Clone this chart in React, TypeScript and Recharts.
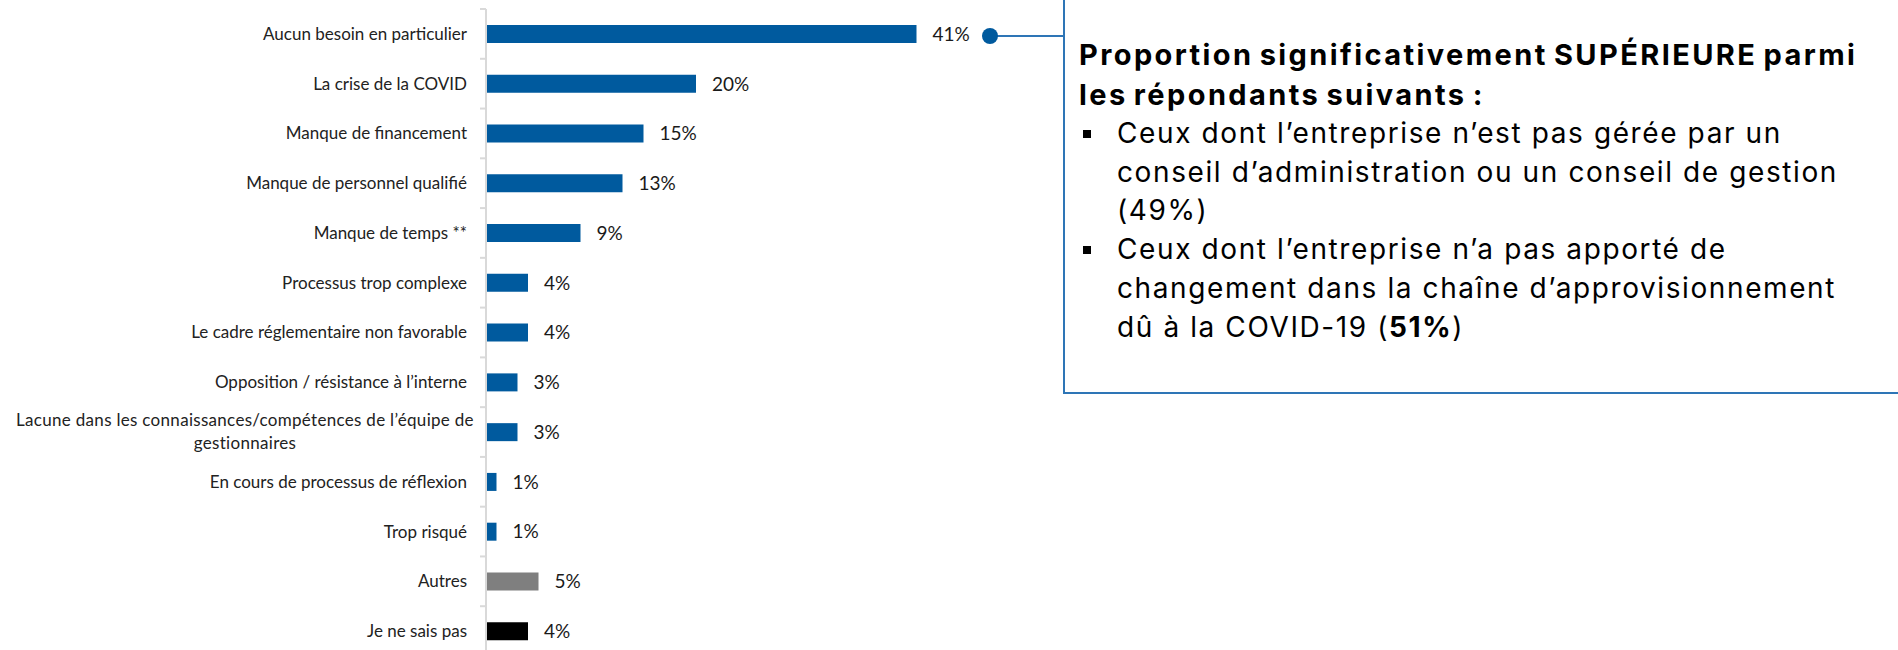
import React from "react";
import { BarChart, Bar, XAxis, YAxis, Cell, LabelList } from "recharts";

const categories: string[] = [
  "Aucun besoin en particulier",
  "La crise de la COVID",
  "Manque de financement",
  "Manque de personnel qualifié",
  "Manque de temps **",
  "Processus trop complexe",
  "Le cadre réglementaire non favorable",
  "Opposition / résistance à l’interne",
  "Lacune dans les connaissances/compétences de l’équipe de gestionnaires",
  "En cours de processus de réflexion",
  "Trop risqué",
  "Autres",
  "Je ne sais pas",
];

const values: number[] = [41, 20, 15, 13, 9, 4, 4, 3, 3, 1, 1, 5, 4];

const calloutTitle: string[] = [
  "Proportion significativement SUPÉRIEURE parmi",
  "les répondants suivants :",
];

const bullet1Lines: string[] = [
  "Ceux dont l’entreprise n’est pas gérée par un",
  "conseil d’administration ou un conseil de gestion",
  "(49%)",
];

const bullet2Lines: string[] = [
  "Ceux dont l’entreprise n’a pas apporté de",
  "changement dans la chaîne d’approvisionnement",
];
const bullet2LastPrefix = "dû à la COVID-19 (";
const bullet2LastBold = "51%";
const bullet2LastSuffix = ")";

const data = categories.map((name, i) => ({ name, value: values[i] }));

const BLUE = "#005A9E";
const colorFor = (name: string) =>
  name === "Autres" ? "#7F7F7F" : name === "Je ne sais pas" ? "#000000" : BLUE;

const CHART_FONT = "Lato, 'Open Sans', sans-serif";
const BOX_LEFT = 1063;
const BORDER = "#2E75B6";

function wrapWords(text: string, maxChars: number): string[] {
  const words = text.split(" ");
  const lines: string[] = [];
  let cur = "";
  for (const w of words) {
    const next = cur ? cur + " " + w : w;
    if (next.length > maxChars && cur) {
      lines.push(cur);
      cur = w;
    } else cur = next;
  }
  if (cur) lines.push(cur);
  return lines;
}

const CategoryTick = (props: any) => {
  const { x, y, payload } = props;
  const half = payload && payload.offset ? payload.offset : 24.9;
  const axisX = x + 19;
  const lines = wrapWords(String(payload.value), 58);
  const tickMark = (
    <line x1={axisX - 6} x2={axisX} y1={y - half} y2={y - half} stroke="#D9D9D9" strokeWidth={2} />
  );
  if (lines.length === 1) {
    return (
      <g>
        {tickMark}
        <text x={x} y={y} dy="0.35em" textAnchor="end" fontFamily={CHART_FONT} fontSize={17} fill="#222">
          {lines[0]}
        </text>
      </g>
    );
  }
  const lh = 23;
  const cx = x - 222;
  return (
    <g>
      {tickMark}
      <text textAnchor="middle" fontFamily={CHART_FONT} fontSize={17} fill="#222" letterSpacing={0.3}>
        {lines.map((l, i) => (
          <tspan key={i} x={cx} y={y + (i - (lines.length - 1) / 2) * lh} dy="0.35em">
            {l}
          </tspan>
        ))}
      </text>
    </g>
  );
};

const CalloutMarker = (props: any) => {
  const { x, y, width, height, index } = props;
  if (index !== 0) return null;
  const cx = Number(x) + Number(width) + 73.5;
  const cy = Number(y) + Number(height) / 2 + 2;
  return (
    <g>
      <line x1={cx} x2={BOX_LEFT + 1} y1={cy} y2={cy} stroke={BORDER} strokeWidth={2} />
      <circle cx={cx} cy={cy} r={8} fill={BLUE} />
    </g>
  );
};

const boxFont = "Inter, 'Open Sans', sans-serif";
const bodyStyle: React.CSSProperties = {
  fontSize: 28,
  lineHeight: "38.7px",
  whiteSpace: "nowrap",
  letterSpacing: "1.6px",
};

export default function App() {
  return (
    <div
      style={{
        position: "absolute",
        left: 0,
        top: 0,
        width: 1898,
        height: 650,
        overflow: "hidden",
        background: "#fff",
      }}
    >
      <div style={{ position: "absolute", left: 0, top: 0 }}>
        <BarChart
          width={1070}
          height={656}
          data={data}
          layout="vertical"
          margin={{ top: 9, right: 59, bottom: 0, left: 0 }}
        >
          <XAxis type="number" domain={[0, 50]} hide />
          <YAxis
            type="category"
            dataKey="name"
            width={486}
            interval={0}
            tickSize={0}
            tickMargin={19}
            axisLine={{ stroke: "#D9D9D9", strokeWidth: 2 }}
            tickLine={false}
            tick={<CategoryTick />}
          />
          <Bar dataKey="value" barSize={18} isAnimationActive={false}>
            {data.map((d, i) => (
              <Cell key={i} fill={colorFor(d.name)} />
            ))}
            <LabelList
              dataKey="value"
              position="right"
              offset={16}
              formatter={(v: any) => `${v}%`}
              style={{ fontFamily: CHART_FONT, fontSize: 19, fill: "#1a1a1a" }}
            />
            <LabelList dataKey="value" content={<CalloutMarker />} />
          </Bar>
        </BarChart>
      </div>
      <div
        style={{
          position: "absolute",
          left: BOX_LEFT,
          top: -10,
          width: 900,
          height: 404,
          boxSizing: "border-box",
          border: `2px solid ${BORDER}`,
          paddingTop: 43,
          paddingLeft: 14,
          fontFamily: boxFont,
          color: "#000",
        }}
      >
        {calloutTitle.map((t, i) => (
          <div
            key={i}
            style={{
              fontSize: 29,
              fontWeight: 700,
              lineHeight: "40px",
              whiteSpace: "nowrap",
              letterSpacing: "2.4px",
              wordSpacing: "-3px",
            }}
          >
            {t}
          </div>
        ))}
        <div style={{ marginTop: -1 }}>
          {[bullet1Lines, bullet2Lines].map((lines, b) => (
            <div key={b} style={{ position: "relative", paddingLeft: 38 }}>
              <div
                style={{
                  position: "absolute",
                  left: 4,
                  top: 15.5,
                  width: 8,
                  height: 8,
                  background: "#000",
                }}
              />
              {lines.map((l, i) => (
                <div key={i} style={bodyStyle}>
                  {l}
                </div>
              ))}
              {b === 1 && (
                <div style={bodyStyle}>
                  {bullet2LastPrefix}
                  <b>{bullet2LastBold}</b>
                  {bullet2LastSuffix}
                </div>
              )}
            </div>
          ))}
        </div>
      </div>
    </div>
  );
}
